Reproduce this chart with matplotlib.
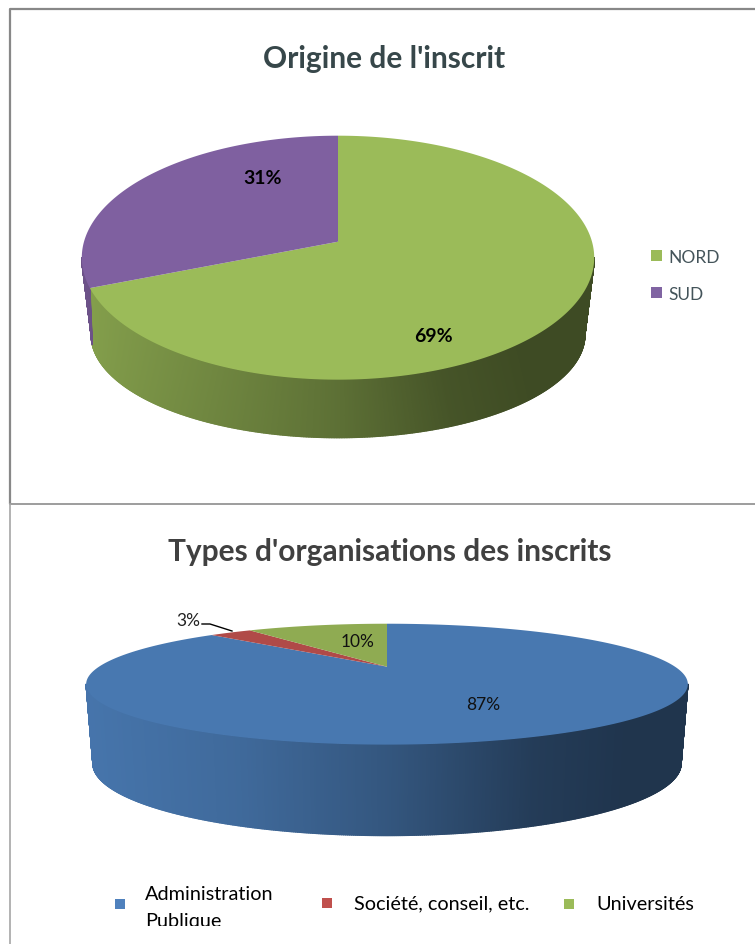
import numpy as np
import matplotlib
matplotlib.use('Agg')
import matplotlib.pyplot as plt
from matplotlib.collections import PolyCollection
from matplotlib.colors import to_rgb
from matplotlib.patches import Rectangle

plt.rcParams['font.family'] = ['Lato', 'DejaVu Sans']

origin_labels = ['NORD', 'SUD']
origin_values = [69, 31]
origin_colors = ['#9bbb59', '#7f60a0']

org_labels = ['Administration', 'Publique', 'Société, conseil, etc.', 'Universités']
org_values = [87, 3, 10]
org_colors = ['#4878b0', '#b04a48', '#8fab52']

legend_top = ['#9bbb59', '#8064a2']
legend_bottom = ['#4f81bd', '#c0504d', '#9bbb59']


def project(theta, g):
    # unit circle seen in perspective, theta clockwise from the top
    u, v = np.sin(theta), np.cos(theta)
    d = 1 + g['c'] * v
    return g['cx'] + g['a'] * u / d, g['y0'] - g['b'] * v / d


def draw_pie(ax, values, colors, top, low, stops):
    edges = 2 * np.pi * np.cumsum([0] + values) / sum(values)
    left = top['cx'] - top['a'] * 1.03
    right = top['cx'] + top['a'] * 1.03
    lim = np.arccos(-top['c'])
    lim_low = np.arccos(-low['c'])

    for a, b, col in zip(edges[:-1], edges[1:], colors):
        # side of the slice, shaded from left to right
        lo, hi = max(a, lim), min(b, 2 * np.pi - lim)
        if hi > lo:
            t = np.linspace(lo, hi, max(int((hi - lo) * 200), 2))
            x1, y1 = project(t, top)
            x2, y2 = project(np.clip(t, lim_low, 2 * np.pi - lim_low), low)
            quads, cols = [], []
            for i in range(len(t) - 1):
                quads.append([(x1[i], y1[i]), (x1[i + 1], y1[i + 1]),
                              (x2[i + 1], y2[i + 1]), (x2[i], y2[i])])
                f = np.interp((x1[i] - left) / (right - left), stops[0], stops[1])
                cols.append(tuple(np.array(to_rgb(col)) * f))
            ax.add_collection(PolyCollection(quads, facecolors=cols, edgecolors=cols,
                                             linewidths=1.0))

    for a, b, col in zip(edges[:-1], edges[1:], colors):
        t = np.linspace(a, b, 300)
        x, y = project(t, top)
        ax.fill(np.r_[top['cx'], x], np.r_[top['y0'], y], color=col, lw=0)


fig = plt.figure(figsize=(7.55, 9.45), dpi=100)
ax = fig.add_axes([0, 0, 1, 1])
ax.set_xlim(0, 755)
ax.set_ylim(945, 0)
ax.axis('off')

# table borders
ax.plot([755, 10, 10], [10, 10, 505], color='#888888', lw=1.6, solid_capstyle='butt')
ax.plot([10, 755], [505, 505], color='#8c8c8c', lw=1.2)
ax.plot([10, 10], [505, 945], color='#a6a6a6', lw=1.2)

# top chart
top1 = dict(cx=338, y0=242.7, a=254, b=119.9, c=0.131)
low1 = dict(cx=338, y0=306.7, a=237, b=95, c=0.28)
draw_pie(ax, origin_values, origin_colors, top1, low1,
         ([0, 0.33, 0.5, 0.7, 0.85, 1], [0.86, 0.69, 0.6, 0.45, 0.4, 0.4]))

ax.text(384, 59, "Origine de l'inscrit", ha='center', va='center', fontsize=21.5,
        fontweight='bold', color='#37474a')
ax.text(263, 178, f'{origin_values[1]}%', ha='center', va='center', fontsize=14,
        fontweight='bold', color='black')
ax.text(433, 337, f'{origin_values[0]}%', ha='center', va='center', fontsize=14,
        fontweight='bold', color='black')

for y, lab, col in zip([257, 294], origin_labels, legend_top):
    ax.add_patch(Rectangle((651, y - 6), 11, 11, color=col, lw=0))
    ax.text(668, y + 1, lab, va='center', fontsize=12.5, color='#44545a')

# bottom chart
top2 = dict(cx=387, y0=667.7, a=288, b=55.4, c=0.289)
low2 = dict(cx=387, y0=743.7, a=281.5, b=66, c=0.289)
draw_pie(ax, org_values, org_colors, top2, low2,
         ([0, 0.25, 0.5, 0.75, 0.9, 1], [0.97, 0.88, 0.72, 0.5, 0.44, 0.44]))

ax.text(390, 552, "Types d'organisations des inscrits", ha='center', va='center',
        fontsize=21.5, fontweight='bold', color='#404040')
ax.text(483, 705, f'{org_values[0]}%', ha='center', va='center', fontsize=12.5, color='#111111')
ax.text(358, 642, f'{org_values[2]}%', ha='center', va='center', fontsize=12.5, color='#111111')
ax.text(188, 621, f'{org_values[1]}%', ha='center', va='center', fontsize=12.5, color='#222222')
ax.plot([202, 210, 232], [625, 625, 632], color='black', lw=1)

for x, y, col in zip([115, 322, 564], [900, 899, 900], legend_bottom):
    ax.add_patch(Rectangle((x, y), 10, 10, color=col, lw=0))

ax.text(145, 894, org_labels[0], va='center', fontsize=14.3, color='black')
# the second line is cut off at the bottom of its box in the original
t = ax.text(145, 921, org_labels[1], va='center', fontsize=14.3, color='black')
t.set_clip_on(True)
t.set_clip_path(Rectangle((0, 0), 755, 927, transform=ax.transData))
ax.text(354, 904, org_labels[2], va='center', fontsize=14.3, color='black')
ax.text(596, 904, org_labels[3], va='center', fontsize=14.3, color='black')

fig.savefig('out.png', dpi=100)
